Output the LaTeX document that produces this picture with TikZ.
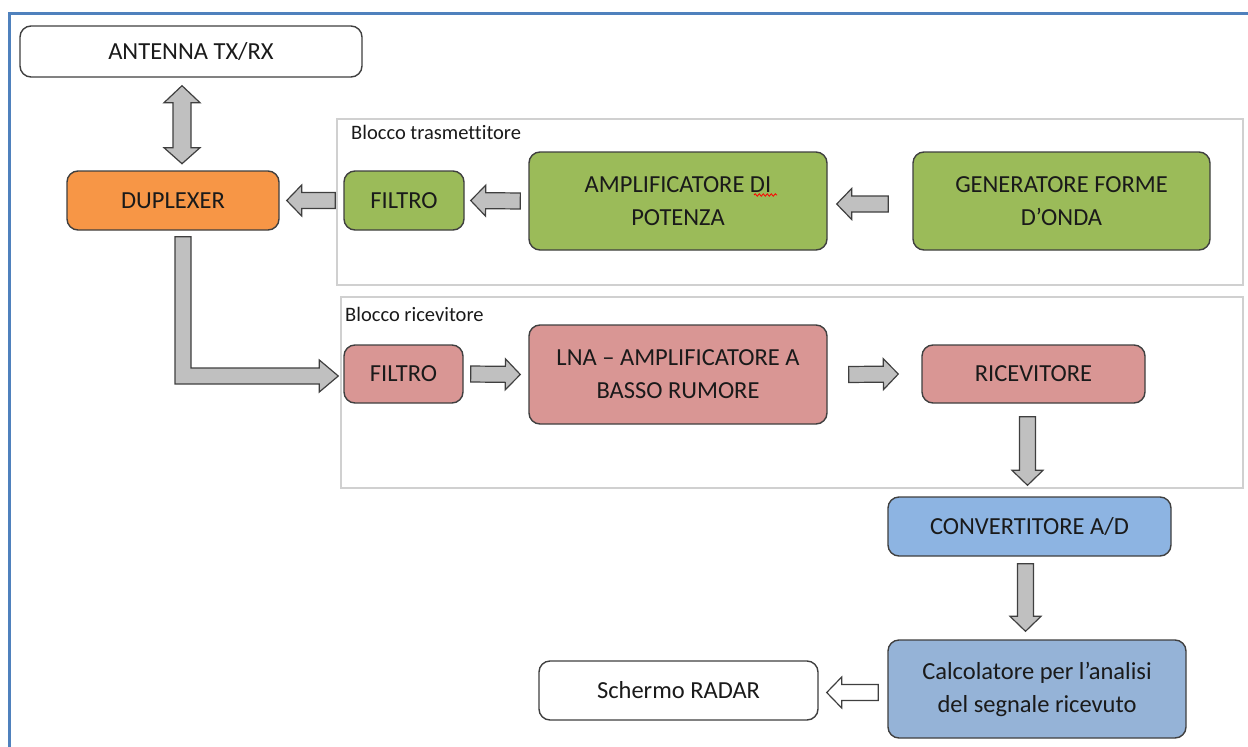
\documentclass[tikz,border=0pt]{standalone}
\usepackage{fontspec}
\setmainfont[Ligatures=NoCommon]{Carlito}
\usetikzlibrary{calc,decorations.pathmorphing}

\definecolor{boxline}{HTML}{3F3F3F}
\definecolor{txtcol}{HTML}{1A1A1A}
\definecolor{duporange}{HTML}{F79646}
\definecolor{txgreen}{HTML}{9BBB59}
\definecolor{rxpink}{HTML}{D99694}
\definecolor{adcblue}{HTML}{8DB4E2}
\definecolor{calcblue}{HTML}{95B3D7}
\definecolor{arrowgray}{HTML}{C0C0C0}
\definecolor{groupline}{HTML}{D0D0D0}
\definecolor{frameblue}{HTML}{4F81BD}

% freccia a blocco da #2 a #3
\newcommand{\blockarrow}[3][]{%
  \coordinate (ba-s) at #2;
  \coordinate (ba-e) at #3;
  \coordinate (ba-m) at ($(ba-e)!15pt!(ba-s)$);
  \draw[barrow,#1] ($(ba-s)!8pt!90:(ba-e)$) -- ($(ba-m)!8pt!90:(ba-e)$)
    -- ($(ba-m)!15.5pt!90:(ba-e)$) -- (ba-e) -- ($(ba-m)!15.5pt!-90:(ba-e)$)
    -- ($(ba-m)!8pt!-90:(ba-e)$) -- ($(ba-s)!8pt!-90:(ba-e)$) -- cycle;
}

\begin{document}
\begin{tikzpicture}[x=1pt, y=-1pt,
    blk/.style={draw=boxline, line width=1.4pt, rounded corners=11pt, text=txtcol,
      align=center, inner sep=0pt, font=\fontsize{24.5}{33}\selectfont},
    group/.style={draw=groupline, line width=1.2pt, inner sep=0pt},
    grplabel/.style={anchor=base west, inner sep=0pt, text=txtcol,
      font=\fontsize{20.5}{24}\selectfont},
    barrow/.style={draw=boxline, line width=1.2pt, fill=arrowgray, line join=miter},
    frame/.style={draw=frameblue, line width=3pt}]
    \useasboundingbox (0,0) rectangle (1248,747);

    % --- Cornice ---
    \draw[frame] (9.5,747) -- (9.5,13.5) -- (1248,13.5);

    % --- Blocchi di gruppo ---
    \node[group, minimum width=906pt, minimum height=166pt] (grptx) at (790,202) {};
    \node[grplabel] (lbltx) at (351,139) {Blocco trasmettitore};
    \node[group, minimum width=902pt, minimum height=191pt] (grprx) at (792,392.5) {};
    \node[grplabel] (lblrx) at (345,321) {Blocco ricevitore};

    % --- Nodi ---
    \node[blk, fill=white, minimum width=342pt, minimum height=51pt] (ant) at (191,51.5) {ANTENNA TX/RX};
    \node[blk, fill=duporange, minimum width=212pt, minimum height=59pt] (dup) at (173,200.5) {DUPLEXER};
    \node[blk, fill=txgreen, minimum width=120pt, minimum height=59pt] (filtx) at (404,200.5) {FILTRO};
    \node[blk, fill=txgreen, minimum width=298pt, minimum height=98pt] (amp) at (678,201) {AMPLIFICATORE DI\\POTENZA};
    \node[blk, fill=txgreen, minimum width=297pt, minimum height=98pt] (gen) at (1061.5,201) {GENERATORE FORME\\D’ONDA};
    \node[blk, fill=rxpink, minimum width=119pt, minimum height=58pt] (filrx) at (403.5,374) {FILTRO};
    \node[blk, fill=rxpink, minimum width=298pt, minimum height=99pt] (lna) at (678,374.5) {LNA – AMPLIFICATORE A\\BASSO RUMORE};
    \node[blk, fill=rxpink, minimum width=223pt, minimum height=58pt] (ric) at (1033.5,374) {RICEVITORE};
    \node[blk, fill=adcblue, minimum width=283pt, minimum height=59pt] (adc) at (1029.5,526.5) {CONVERTITORE A/D};
    \node[blk, fill=calcblue, minimum width=298pt, minimum height=98pt] (calc) at (1037,689) {Calcolatore per l’analisi\\del segnale ricevuto};
    \node[blk, fill=white, minimum width=279pt, minimum height=59pt] (scr) at (678.5,690.5) {Schermo RADAR};

    % sottolineatura ondulata sotto "DI"
    \draw[red, line width=0.8pt, decorate, decoration={snake, amplitude=1.2pt, segment length=4pt}]
        ($(amp.center)+(76,-6)$) -- ++(23,0);

    % --- Frecce ---
    % antenna <-> duplexer
    \draw[barrow] ($(ant.south)+(-9,8)$) -- ++(18,17) -- ++(-9,0) -- ++(0,45) -- ++(9,0)
        -- ++(-18,16) -- ++(-18,-16) -- ++(9,0) -- ++(0,-45) -- ++(-9,0) -- cycle;

    % catena di trasmissione
    \blockarrow{($(filtx.west)+(-8,0)$)}{($(dup.east)+(7,0)$)}
    \blockarrow{($(amp.west)+(-8,0)$)}{($(filtx.east)+(6,0)$)}
    \blockarrow{($(gen.west)+(-24,3)$)}{($(amp.east)+(9,3)$)}

    % duplexer -> filtro di ricezione
    \draw[barrow] ($(dup.south)+(2,6)$) -- ($(dup.south)+(18,6)$) |- ($(filrx.west)+(-24,-6)$)
        -- ++(0,-8) -- ($(filrx.west)+(-5,2)$) -- ($(filrx.west)+(-24,18)$) -- ++(0,-8)
        -| ($(dup.south)+(2,6)$) -- cycle;

    % catena di ricezione
    \blockarrow{($(filrx.east)+(7,0)$)}{($(lna.west)+(-8,0)$)}
    \blockarrow{($(lna.east)+(21,0)$)}{($(ric.west)+(-23,0)$)}
    \blockarrow{($(adc.north |- ric.south)+(-2,13)$)}{($(adc.north)+(-2,-11)$)}
    \blockarrow{($(adc.south)+(-4,7)$)}{($(adc.south |- calc.north)+(-4,-8)$)}
    \blockarrow[fill=white]{($(calc.west |- scr.east)+(-9,2)$)}{($(scr.east)+(8,2)$)}
\end{tikzpicture}
\end{document}
